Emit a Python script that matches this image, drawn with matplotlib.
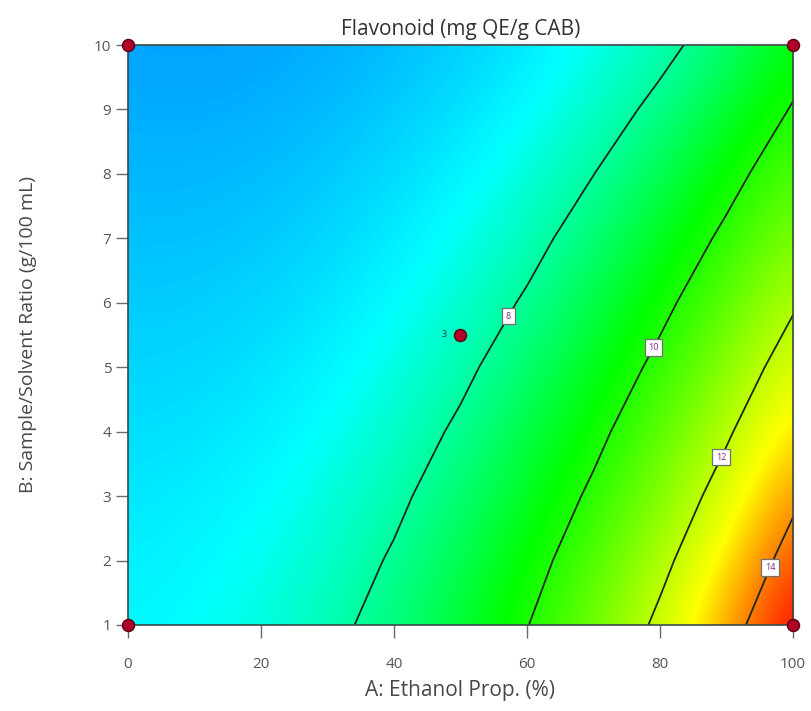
import numpy as np
import matplotlib
matplotlib.use("Agg")
import matplotlib.pyplot as plt
from matplotlib.colors import LinearSegmentedColormap, Normalize

# ------------------------------------------------
# data (response surface)
# ------------------------------------------------
ethanol = [0, 10, 20, 30, 40, 50, 60, 70, 80, 90, 100]      # A: Ethanol Prop. (%)
ratio = [1, 2, 3, 4, 5, 6, 7, 8, 9, 10]                     # B: Sample/Solvent Ratio

# flavonoid (mg QE/g CAB), one row per ratio value
flavonoid = [
    [6.88, 7.03, 7.32, 7.76, 8.35, 9.08, 9.97, 11.01, 12.21, 13.56, 15.06],
    [6.77, 6.88, 7.15, 7.55, 8.09, 8.78, 9.62, 10.60, 11.73, 13.00, 14.43],
    [6.63, 6.73, 6.96, 7.32, 7.82, 8.47, 9.25, 10.17, 11.23, 12.44, 13.79],
    [6.48, 6.55, 6.75, 7.08, 7.55, 8.14, 8.87, 9.74, 10.74, 11.87, 13.15],
    [6.32, 6.37, 6.54, 6.84, 7.26, 7.81, 8.49, 9.30, 10.24, 11.31, 12.51],
    [6.15, 6.18, 6.33, 6.59, 6.98, 7.48, 8.10, 8.87, 9.75, 10.75, 11.88],
    [5.98, 5.99, 6.11, 6.35, 6.70, 7.15, 7.72, 8.42, 9.26, 10.20, 11.26],
    [5.81, 5.80, 5.90, 6.11, 6.42, 6.83, 7.36, 7.99, 8.76, 9.66, 10.65],
    [5.65, 5.62, 5.70, 5.88, 6.16, 6.52, 6.98, 7.56, 8.22, 9.10, 10.07],
    [5.50, 5.45, 5.51, 5.66, 5.90, 6.22, 6.64, 7.17, 7.75, 8.45, 9.51],
]

contour_levels = [8, 10, 12, 14]
label_spots = [(56.4, 5.84), (78.6, 5.33), (88.9, 3.62), (96.4, 1.9)]

# design points
design_a = [0, 0, 100, 100, 50]
design_b = [1, 10, 1, 10, 5.5]
center_reps = "3"

x_ticks = [0, 20, 40, 60, 80, 100]
y_ticks = [1, 2, 3, 4, 5, 6, 7, 8, 9, 10]

# ------------------------------------------------
# colours: blue -> cyan -> green -> yellow -> red
# ------------------------------------------------
vmin, vmax = 5.4, 15.1
nodes = [(5.4, "#00a0ff"), (7.0, "#00ffff"), (9.6, "#00ff00"),
         (12.8, "#ffff00"), (14.9, "#ff1000"), (15.1, "#ee0000")]
cmap = LinearSegmentedColormap.from_list(
    "de", [((v - vmin) / (vmax - vmin), c) for v, c in nodes])

plt.rcParams["font.family"] = ["Open Sans", "DejaVu Sans"]

fig = plt.figure(figsize=(8.11, 7.11), dpi=100)
ax = fig.add_axes([0.1578, 0.121, 0.82, 0.8157])

Z = np.array(flavonoid)
dx = (ethanol[1] - ethanol[0]) / 2
dy = (ratio[1] - ratio[0]) / 2
ax.imshow(Z, origin="lower", cmap=cmap, norm=Normalize(vmin, vmax),
          extent=[ethanol[0] - dx, ethanol[-1] + dx, ratio[0] - dy, ratio[-1] + dy],
          aspect="auto", interpolation="bicubic")

cs = ax.contour(ethanol, ratio, Z, levels=contour_levels,
                colors="#1c2a1c", linewidths=1.3)
labels = ax.clabel(cs, fmt="%d", fontsize=6.5, colors="#7a2a7a",
                   manual=label_spots, inline=False)
for t in labels:
    t.set_rotation(0)
    t.set_bbox(dict(boxstyle="square,pad=0.4", fc="white", ec="#707070", lw=0.9))

ax.scatter(design_a, design_b, s=75, color="#b0002a", edgecolor="#5a0010",
           linewidth=1, zorder=5, clip_on=False)
ax.text(design_a[-1] - 2.0, design_b[-1], center_reps, fontsize=6.5,
        color="#333333", ha="right", va="center")

ax.set_xlim(ethanol[0], ethanol[-1])
ax.set_ylim(ratio[0], ratio[-1])
ax.set_xticks(x_ticks)
ax.set_yticks(y_ticks)
ax.tick_params(direction="out", width=1, colors="#6a6a6a",
               labelsize=11, labelcolor="#555555")
ax.tick_params(axis="x", length=9, pad=14)
ax.tick_params(axis="y", length=9, pad=3)
for s in ax.spines.values():
    s.set_color("#3a4a4a")
    s.set_linewidth(1.2)

ax.set_title("Flavonoid (mg QE/g CAB)", fontsize=15, color="#333333", pad=7)
ax.set_xlabel("A: Ethanol Prop. (%)", fontsize=15, color="#484848", labelpad=6)
ax.set_ylabel("B: Sample/Solvent Ratio (g/100 mL)", fontsize=14,
              color="#484848", labelpad=41)

fig.savefig("out.png", dpi=100)
